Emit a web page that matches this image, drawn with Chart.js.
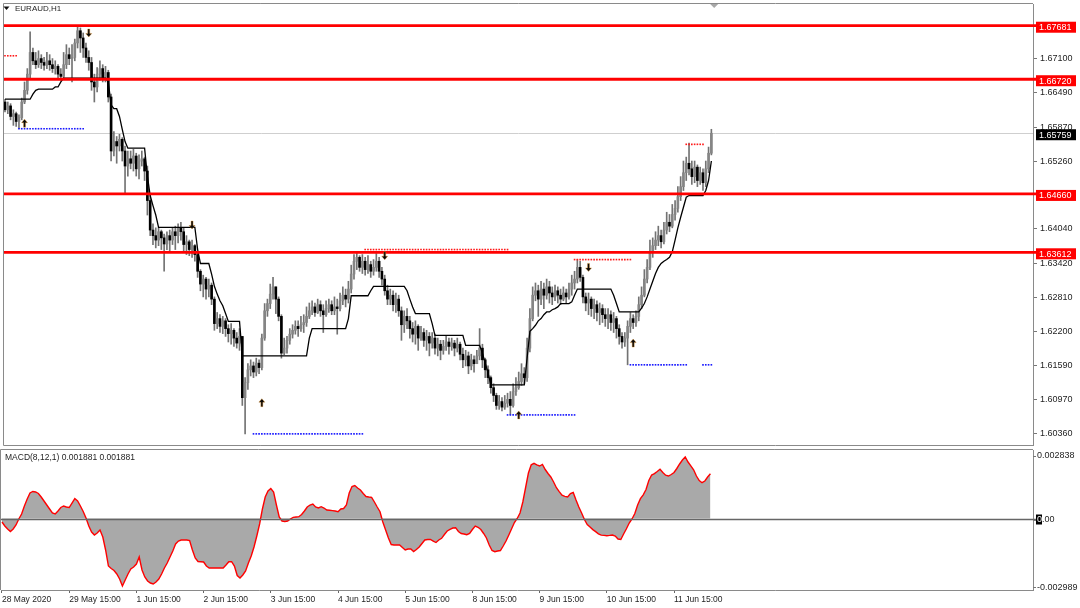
<!DOCTYPE html>
<html>
<head>
<meta charset="utf-8">
<script src="https://cdn.jsdelivr.net/npm/chart.js@4.4.1/dist/chart.umd.min.js"></script>
<style>
  html, body { margin: 0; padding: 0; background: #fff; }
  #wrap { position: relative; width: 1080px; height: 608px; overflow: hidden; background: #fff; }
  #main { position: absolute; left: 0; top: 0; }
  #macd { position: absolute; left: 0; top: 440px; }
</style>
</head>
<body>
<div id="wrap">
  <canvas id="main" width="1080" height="449"></canvas>
  <canvas id="macd" width="1080" height="168"></canvas>
</div>
<script>
// ---- data ----
const symbolTitle = 'EURAUD,H1';
const macdTitle = 'MACD(8,12,1) 0.001881 0.001881';

const xTickBars = [0, 24, 48, 72, 96, 120, 144, 168, 192, 216, 240];
const xTickLabels = ['28 May 2020', '29 May 15:00', '1 Jun 15:00', '2 Jun 15:00', '3 Jun 15:00',
  '4 Jun 15:00', '5 Jun 15:00', '8 Jun 15:00', '9 Jun 15:00', '10 Jun 15:00', '11 Jun 15:00'];

const priceTicks = [1.60360, 1.60970, 1.61590, 1.62200, 1.62810, 1.63420, 1.64040, 1.65260, 1.65870, 1.66490, 1.67100];
const levelLines = [1.67681, 1.66720, 1.64660, 1.63612];
const lastPrice = 1.65759;

const firstOpen = 1.6632;
const closes = [
  1.6618,1.6625,1.6606,1.6611,1.6597,1.6604,1.6632,1.6653,1.6682,1.6721,
  1.6706,1.6699,1.6710,1.6703,1.6698,1.6706,1.6699,1.6692,1.6696,1.6682,
  1.6678,1.6699,1.6717,1.6710,1.6712,1.6738,1.6760,1.6747,1.6729,1.6712,
  1.6703,1.6668,1.6659,1.6682,1.6692,1.6675,1.6685,1.6641,1.6544,1.6561,
  1.6553,1.6565,1.6544,1.6517,1.6530,1.6522,1.6535,1.6512,1.6526,1.6530,
  1.6508,1.6455,1.6402,1.6392,1.6384,1.6399,1.6388,1.6377,1.6392,1.6384,
  1.6399,1.6392,1.6406,1.6399,1.6376,1.6381,1.6367,1.6374,1.6358,1.6328,
  1.6305,1.6314,1.6296,1.6303,1.6278,1.6234,1.6243,1.6229,1.6239,1.6225,
  1.6216,1.6222,1.6208,1.6199,1.6211,1.6101,1.6128,1.6151,1.6158,1.6147,
  1.6163,1.6155,1.6208,1.6257,1.6270,1.6287,1.6300,1.6278,1.6247,1.6181,
  1.6190,1.6204,1.6215,1.6222,1.6229,1.6225,1.6232,1.6236,1.6247,1.6257,
  1.6264,1.6254,1.6268,1.6257,1.6250,1.6261,1.6268,1.6257,1.6264,1.6261,
  1.6275,1.6285,1.6278,1.6296,1.6323,1.6346,1.6353,1.6335,1.6346,1.6331,
  1.6340,1.6328,1.6335,1.6346,1.6328,1.6314,1.6293,1.6278,1.6285,1.6268,
  1.6278,1.6257,1.6232,1.6247,1.6239,1.6225,1.6215,1.6229,1.6208,1.6218,
  1.6204,1.6211,1.6199,1.6208,1.6190,1.6197,1.6186,1.6193,1.6201,1.6193,
  1.6199,1.6190,1.6197,1.6179,1.6169,1.6176,1.6158,1.6169,1.6162,1.6176,
  1.6190,1.6169,1.6151,1.6137,1.6119,1.6105,1.6087,1.6094,1.6084,1.6091,
  1.6098,1.6087,1.6112,1.6119,1.6130,1.6144,1.6137,1.6190,1.6243,1.6285,
  1.6293,1.6278,1.6296,1.6285,1.6300,1.6289,1.6282,1.6293,1.6285,1.6278,
  1.6289,1.6282,1.6296,1.6307,1.6314,1.6335,1.6317,1.6282,1.6271,1.6278,
  1.6261,1.6268,1.6254,1.6261,1.6250,1.6243,1.6250,1.6236,1.6243,1.6225,
  1.6211,1.6201,1.6208,1.6229,1.6243,1.6236,1.6247,1.6268,1.6285,1.6314,
  1.6335,1.6363,1.6374,1.6384,1.6392,1.6381,1.6402,1.6416,1.6409,1.6430,
  1.6441,1.6462,1.6480,1.6505,1.6522,1.6512,1.6498,1.6515,1.6491,1.6505,
  1.6487,1.6512,1.6540,1.65759
];
const highs = [
  1.6637,1.6632,1.6629,1.6618,1.6614,1.6609,1.6639,1.6668,1.6692,1.6758,
  1.6729,1.6721,1.6724,1.6717,1.6712,1.6721,1.6717,1.6710,1.6706,1.6699,
  1.6692,1.6721,1.6735,1.6729,1.6735,1.6745,1.6767,1.6765,1.6756,1.6738,
  1.6724,1.6712,1.6682,1.6694,1.6706,1.6699,1.6696,1.6689,1.6646,1.6579,
  1.6570,1.6574,1.6568,1.6553,1.6544,1.6544,1.6547,1.6540,1.6537,1.6544,
  1.6533,1.6517,1.6464,1.6413,1.6406,1.6406,1.6402,1.6395,1.6399,1.6402,
  1.6406,1.6409,1.6413,1.6416,1.6406,1.6392,1.6384,1.6384,1.6376,1.6363,
  1.6331,1.6321,1.6317,1.6314,1.6307,1.6282,1.6254,1.6250,1.6247,1.6243,
  1.6232,1.6234,1.6225,1.6218,1.6225,1.6208,1.6137,1.6162,1.6169,1.6165,
  1.6172,1.6169,1.6215,1.6270,1.6278,1.6305,1.6317,1.6300,1.6282,1.6250,
  1.6208,1.6211,1.6225,1.6232,1.6239,1.6239,1.6247,1.6250,1.6264,1.6271,
  1.6275,1.6271,1.6278,1.6275,1.6268,1.6275,1.6278,1.6275,1.6282,1.6278,
  1.6289,1.6300,1.6296,1.6310,1.6339,1.6358,1.6361,1.6356,1.6358,1.6353,
  1.6356,1.6346,1.6349,1.6360,1.6353,1.6335,1.6321,1.6303,1.6296,1.6293,
  1.6289,1.6285,1.6264,1.6257,1.6261,1.6247,1.6236,1.6239,1.6232,1.6229,
  1.6225,1.6222,1.6218,1.6218,1.6215,1.6208,1.6204,1.6204,1.6211,1.6208,
  1.6208,1.6204,1.6208,1.6201,1.6190,1.6186,1.6183,1.6179,1.6176,1.6186,
  1.6225,1.6197,1.6172,1.6158,1.6140,1.6126,1.6109,1.6105,1.6101,1.6105,
  1.6109,1.6112,1.6126,1.6137,1.6147,1.6162,1.6155,1.6208,1.6261,1.6300,
  1.6307,1.6303,1.6310,1.6307,1.6314,1.6310,1.6300,1.6303,1.6300,1.6296,
  1.6300,1.6296,1.6307,1.6321,1.6328,1.6349,1.6346,1.6321,1.6289,1.6289,
  1.6282,1.6278,1.6275,1.6271,1.6268,1.6261,1.6261,1.6257,1.6254,1.6247,
  1.6232,1.6218,1.6218,1.6239,1.6254,1.6250,1.6257,1.6282,1.6300,1.6331,
  1.6349,1.6384,1.6388,1.6399,1.6409,1.6402,1.6416,1.6434,1.6430,1.6448,
  1.6455,1.6480,1.6498,1.6526,1.6533,1.6558,1.6526,1.6526,1.6519,1.6515,
  1.6512,1.6526,1.6551,1.6583
];
const lows = [
  1.6614,1.6611,1.6600,1.6590,1.6588,1.6584,1.6600,1.6629,1.6646,1.6675,
  1.6699,1.6692,1.6694,1.6692,1.6689,1.6692,1.6689,1.6685,1.6682,1.6675,
  1.6671,1.6675,1.6692,1.6699,1.6668,1.6706,1.6729,1.6721,1.6712,1.6703,
  1.6689,1.6653,1.6632,1.6650,1.6671,1.6668,1.6668,1.6632,1.6526,1.6535,
  1.6522,1.6544,1.6526,1.6469,1.6499,1.6512,1.6508,1.6499,1.6494,1.6517,
  1.6491,1.6429,1.6392,1.6376,1.6370,1.6374,1.6367,1.6328,1.6367,1.6363,
  1.6376,1.6367,1.6379,1.6384,1.6363,1.6358,1.6356,1.6353,1.6346,1.6317,
  1.6293,1.6282,1.6278,1.6282,1.6268,1.6222,1.6225,1.6218,1.6216,1.6211,
  1.6201,1.6197,1.6193,1.6190,1.6186,1.6087,1.6036,1.6116,1.6140,1.6137,
  1.6140,1.6144,1.6151,1.6204,1.6247,1.6261,1.6278,1.6252,1.6239,1.6172,
  1.6178,1.6181,1.6197,1.6208,1.6215,1.6211,1.6220,1.6218,1.6229,1.6243,
  1.6250,1.6247,1.6252,1.6247,1.6218,1.6247,1.6254,1.6250,1.6250,1.6215,
  1.6257,1.6268,1.6264,1.6271,1.6289,1.6314,1.6331,1.6328,1.6324,1.6321,
  1.6324,1.6317,1.6321,1.6328,1.6317,1.6303,1.6285,1.6268,1.6268,1.6257,
  1.6254,1.6247,1.6204,1.6218,1.6225,1.6208,1.6201,1.6197,1.6186,1.6204,
  1.6193,1.6186,1.6176,1.6190,1.6179,1.6176,1.6169,1.6179,1.6186,1.6179,
  1.6186,1.6176,1.6183,1.6169,1.6155,1.6158,1.6144,1.6151,1.6147,1.6162,
  1.6169,1.6155,1.6137,1.6126,1.6109,1.6094,1.6080,1.6080,1.6077,1.6080,
  1.6084,1.6070,1.6084,1.6105,1.6116,1.6123,1.6126,1.6130,1.6183,1.6239,
  1.6275,1.6247,1.6268,1.6261,1.6278,1.6271,1.6268,1.6275,1.6271,1.6268,
  1.6275,1.6271,1.6278,1.6285,1.6296,1.6307,1.6310,1.6271,1.6257,1.6250,
  1.6247,1.6243,1.6239,1.6232,1.6236,1.6229,1.6225,1.6222,1.6218,1.6208,
  1.6197,1.6190,1.6193,1.6160,1.6218,1.6225,1.6229,1.6239,1.6261,1.6282,
  1.6307,1.6331,1.6353,1.6367,1.6374,1.6370,1.6377,1.6395,1.6399,1.6406,
  1.6420,1.6434,1.6455,1.6473,1.6491,1.6501,1.6484,1.6487,1.6480,1.6484,
  1.6473,1.6480,1.6505,1.6537
];
// trailing stop line (black)
const stopLine = [
  1.6637,1.6637,1.6637,1.6637,1.6637,1.6637,1.6637,1.6637,1.6637,1.6637,
  1.6646,1.6653,1.6655,1.6655,1.6655,1.6655,1.6655,1.6655,1.6659,1.6659,
  1.6668,1.6675,1.6675,1.6675,1.6675,1.6675,1.6675,1.6675,1.6675,1.6675,
  1.6675,1.6675,1.6675,1.6675,1.6675,1.6675,1.6675,1.6668,1.6627,1.6620,
  1.6620,1.6606,1.6583,1.6561,1.6549,1.6549,1.6549,1.6549,1.6549,1.6549,
  1.6549,1.6499,1.6464,1.6446,1.6429,1.6407,1.6407,1.6407,1.6407,1.6407,
  1.6407,1.6407,1.6407,1.6407,1.6407,1.6407,1.6407,1.6407,1.6407,1.6367,
  1.6342,1.6342,1.6342,1.6342,1.6323,1.6301,1.6287,1.6275,1.6266,1.6252,
  1.6238,1.6238,1.6238,1.6238,1.6238,1.6176,1.6176,1.6176,1.6176,1.6176,
  1.6176,1.6176,1.6176,1.6176,1.6176,1.6176,1.6176,1.6176,1.6176,1.6176,
  1.6176,1.6176,1.6176,1.6176,1.6176,1.6176,1.6176,1.6176,1.6176,1.6208,
  1.6225,1.6225,1.6225,1.6225,1.6225,1.6225,1.6225,1.6225,1.6225,1.6225,
  1.6225,1.6225,1.6225,1.6243,1.6284,1.6284,1.6284,1.6284,1.6284,1.6284,
  1.6284,1.6293,1.6301,1.6301,1.6301,1.6301,1.6301,1.6301,1.6301,1.6301,
  1.6301,1.6301,1.6301,1.6301,1.6293,1.6278,1.6264,1.6252,1.6252,1.6252,
  1.6252,1.6252,1.6252,1.6234,1.6213,1.6213,1.6213,1.6213,1.6213,1.6213,
  1.6213,1.6213,1.6213,1.6213,1.6213,1.6195,1.6195,1.6195,1.6195,1.6195,
  1.6195,1.6181,1.6163,1.6146,1.6124,1.6124,1.6124,1.6124,1.6124,1.6124,
  1.6124,1.6124,1.6124,1.6124,1.6124,1.6124,1.6124,1.6172,1.6220,1.6225,
  1.6231,1.6239,1.6243,1.6250,1.6255,1.6255,1.6259,1.6261,1.6264,1.6270,
  1.6270,1.6270,1.6270,1.6273,1.6285,1.6296,1.6296,1.6296,1.6296,1.6296,
  1.6296,1.6296,1.6296,1.6296,1.6296,1.6296,1.6296,1.6296,1.6285,1.6270,
  1.6255,1.6255,1.6255,1.6255,1.6255,1.6255,1.6255,1.6255,1.6262,1.6270,
  1.6282,1.6296,1.6310,1.6324,1.6335,1.6342,1.6346,1.6349,1.6353,1.6363,
  1.6384,1.6406,1.6425,1.6443,1.6461,1.6464,1.6464,1.6464,1.6464,1.6464,
  1.6464,1.6473,1.6491,1.6526
];
const macdValues = [
  -0.000147,-0.000316,-0.000442,-0.000547,-0.000442,-0.000273,-0.000021,0.000189,0.000526,0.000820,
  0.001073,0.001136,0.001115,0.001052,0.000905,0.000736,0.000568,0.000400,0.000231,0.000189,
  0.000316,0.000463,0.000526,0.000484,0.000463,0.000652,0.000841,0.000736,0.000526,0.000294,
  0.000021,-0.000316,-0.000568,-0.000694,-0.000610,-0.000484,-0.000778,-0.001325,-0.001998,-0.002104,
  -0.002188,-0.002335,-0.002545,-0.002840,-0.002587,-0.002335,-0.002125,-0.002040,-0.001914,-0.001620,
  -0.002167,-0.002461,-0.002629,-0.002714,-0.002756,-0.002671,-0.002545,-0.002335,-0.002082,-0.001872,
  -0.001620,-0.001367,-0.001073,-0.000947,-0.000905,-0.000905,-0.000905,-0.000926,-0.001325,-0.001662,
  -0.001809,-0.001817,-0.001830,-0.001998,-0.002082,-0.002082,-0.002082,-0.002082,-0.002082,-0.002082,
  -0.001956,-0.001817,-0.001817,-0.001998,-0.002398,-0.002503,-0.002377,-0.002209,-0.001872,-0.001578,
  -0.001199,-0.000736,-0.000231,0.000400,0.000905,0.001157,0.001262,0.001115,0.000568,0.000063,
  -0.000105,-0.000126,-0.000105,-0.000021,0.000050,0.000063,0.000076,0.000168,0.000316,0.000484,
  0.000568,0.000610,0.000484,0.000442,0.000496,0.000442,0.000358,0.000345,0.000332,0.000316,
  0.000286,0.000400,0.000421,0.000568,0.001073,0.001346,0.001388,0.001283,0.001199,0.001052,
  0.000926,0.000905,0.000892,0.000694,0.000484,0.000286,-0.000147,-0.000484,-0.000820,-0.001094,
  -0.001115,-0.001115,-0.001115,-0.001220,-0.001325,-0.001283,-0.001283,-0.001388,-0.001304,-0.001199,
  -0.001052,-0.000905,-0.000883,-0.000883,-0.000947,-0.001010,-0.000905,-0.000833,-0.000673,-0.000526,
  -0.000454,-0.000400,-0.000387,-0.000547,-0.000631,-0.000652,-0.000682,-0.000631,-0.000463,-0.000316,
  -0.000370,-0.000463,-0.000631,-0.000820,-0.001115,-0.001346,-0.001397,-0.001367,-0.001346,-0.001157,
  -0.000947,-0.000694,-0.000433,-0.000168,0.000000,0.000231,0.000694,0.001304,0.001914,0.002259,
  0.002322,0.002259,0.002209,0.002272,0.002061,0.001893,0.001746,0.001536,0.001296,0.001132,
  0.000980,0.000930,0.000905,0.001052,0.001094,0.000778,0.000484,0.000231,-0.000042,-0.000252,
  -0.000358,-0.000467,-0.000551,-0.000644,-0.000698,-0.000711,-0.000724,-0.000711,-0.000694,-0.000736,
  -0.000862,-0.000883,-0.000652,-0.000433,-0.000189,-0.000021,0.000210,0.000568,0.000833,0.000997,
  0.001220,0.001599,0.001830,0.001889,0.001977,0.002070,0.001935,0.001822,0.001788,0.001851,
  0.001935,0.002104,0.002293,0.002461,0.002587,0.002377,0.002217,0.002049,0.001788,0.001599,
  0.001506,0.001578,0.001746,0.001881
];
const macdAxisValues = [0.002838, 0, -0.002989];
const macdAxisLabels = ['0.002838', '0.00', '-0.002989'];

// dotted swing levels: [first bar, last bar, price]
const resistanceDots = [[0, 4, 1.6715], [129, 180, 1.6367], [204, 224, 1.6349], [244, 250, 1.6556]];
const supportDots = [[5, 28, 1.6584], [89, 128, 1.6036], [180, 204, 1.6070], [224, 244, 1.6160], [250, 253, 1.6160]];

// signal arrows
const arrowBars = [7, 30, 67, 92, 136, 184, 209, 225];
const arrowPrices = [1.6594, 1.6756, 1.6411, 1.6092, 1.6356, 1.6070, 1.6335, 1.6199];
const arrowUp = [true, false, false, true, false, true, false, true];

// ---- helpers ----
const FONT = '"Liberation Sans", Arial, sans-serif';
const axisFont = { family: 'Liberation Sans', size: 9 };
const dateFont = { family: 'Liberation Sans', size: 8.5 };
const textColor = '#1e1e1e';
const frameColor = '#8a8a8a';
const X_MIN = -0.357, X_MAX = 368.2;

const opens = closes.map((c, i) => (i === 0 ? firstOpen : closes[i - 1]));
const wickData = closes.map((c, i) => ({
  x: i,
  y: [Math.min(lows[i], opens[i], c), Math.max(highs[i], opens[i], c)]
}));
const bodyData = closes.map((c, i) => ({ x: i, y: [opens[i], c] }));
const bodyColors = closes.map((c, i) => (c >= opens[i] ? '#858585' : '#000000'));

function dots(levels) {
  const pts = [];
  levels.forEach(([from, to, price]) => {
    for (let i = from; i <= to; i++) pts.push({ x: i, y: price });
  });
  return pts;
}

function hLine(ctx, x1, x2, y, color, w) {
  ctx.save();
  ctx.strokeStyle = color;
  ctx.lineWidth = w;
  ctx.beginPath();
  ctx.moveTo(x1, y);
  ctx.lineTo(x2, y);
  ctx.stroke();
  ctx.restore();
}

function axisBox(ctx, x, cy, text, bg) {
  ctx.save();
  ctx.fillStyle = bg;
  ctx.fillRect(x, cy - 5.5, 40, 11);
  ctx.fillStyle = '#fff';
  ctx.font = '9px ' + FONT;
  ctx.textAlign = 'left';
  ctx.textBaseline = 'middle';
  ctx.fillText(text, x + 3, cy + 0.5);
  ctx.restore();
}

function drawArrow(ctx, x, y, up) {
  const s = up ? 1 : -1;
  ctx.save();
  ctx.beginPath();
  ctx.moveTo(x, y - 4 * s);
  ctx.lineTo(x + 3, y - 0.5 * s);
  ctx.lineTo(x + 1, y - 0.5 * s);
  ctx.lineTo(x + 1, y + 4 * s);
  ctx.lineTo(x - 1, y + 4 * s);
  ctx.lineTo(x - 1, y - 0.5 * s);
  ctx.lineTo(x - 3, y - 0.5 * s);
  ctx.closePath();
  ctx.fillStyle = '#0a0a0a';
  ctx.fill();
  ctx.strokeStyle = 'rgba(235,150,40,0.6)';
  ctx.lineWidth = 0.6;
  ctx.stroke();
  ctx.restore();
}

function noPad(scale) {
  scale.paddingTop = 0;
  scale.paddingBottom = 0;
  scale.paddingLeft = 0;
  scale.paddingRight = 0;
}

// ---- price panel ----
const mainDecor = {
  id: 'mainDecor',
  beforeDatasetsDraw(chart) {
    const { ctx, chartArea: a, scales: { y } } = chart;
    const py = Math.round(y.getPixelForValue(lastPrice)) + 0.5;
    hLine(ctx, a.left, a.right, py, '#cfcfcf', 1);
  },
  afterDatasetsDraw(chart) {
    const { ctx, chartArea: a, scales: { x, y } } = chart;
    levelLines.forEach(v => hLine(ctx, a.left, a.right + 3, y.getPixelForValue(v) - 0.5, '#ff0000', 2.8));
    arrowBars.forEach((b, k) => drawArrow(ctx, x.getPixelForValue(b), y.getPixelForValue(arrowPrices[k]), arrowUp[k]));
  },
  afterDraw(chart) {
    const { ctx, chartArea: a, scales: { x, y } } = chart;
    ctx.save();
    ctx.strokeStyle = frameColor;
    ctx.lineWidth = 1;
    ctx.beginPath();
    ctx.moveTo(a.left - 0.5, a.bottom + 0.5);
    ctx.lineTo(a.left - 0.5, a.top - 0.5);
    ctx.lineTo(a.right, a.top - 0.5);
    ctx.moveTo(a.left - 0.5, a.bottom + 0.5);
    ctx.lineTo(a.right, a.bottom + 0.5);
    ctx.stroke();
    ctx.restore();

    levelLines.forEach(v => axisBox(ctx, a.right + 3, y.getPixelForValue(v) + 1, v.toFixed(5), '#ff0000'));
    axisBox(ctx, a.right + 3, y.getPixelForValue(lastPrice) + 1.5, lastPrice.toFixed(5), '#000000');

    // title
    ctx.save();
    ctx.fillStyle = '#111';
    ctx.beginPath();
    ctx.moveTo(3.5, 6.5); ctx.lineTo(9.5, 6.5); ctx.lineTo(6.5, 10); ctx.closePath();
    ctx.fill();
    ctx.font = '8px ' + FONT;
    ctx.textBaseline = 'middle';
    ctx.fillStyle = textColor;
    ctx.fillText(symbolTitle, 15, 9);
    // chart shift marker
    const sx = x.getPixelForValue(254);
    ctx.fillStyle = '#a8a8a8';
    ctx.beginPath();
    ctx.moveTo(sx - 4, a.top); ctx.lineTo(sx + 4, a.top); ctx.lineTo(sx, a.top + 4); ctx.closePath();
    ctx.fill();
    ctx.restore();
  }
};

new Chart(document.getElementById('main'), {
  type: 'bar',
  data: {
    datasets: [
      { type: 'line', data: stopLine.map((v, i) => ({ x: i, y: v })), borderColor: '#000', borderWidth: 1.3,
        pointRadius: 0, tension: 0 },
      { type: 'line', data: dots(supportDots), showLine: false, pointStyle: 'rect', pointRadius: 1.15,
        pointBackgroundColor: '#1a1aff', pointBorderWidth: 0 },
      { type: 'line', data: dots(resistanceDots), showLine: false, pointStyle: 'rect', pointRadius: 1.15,
        pointBackgroundColor: '#ff1a1a', pointBorderWidth: 0 },
      { type: 'bar', data: bodyData, backgroundColor: bodyColors, barThickness: 2, grouped: false, minBarLength: 1 },
      { type: 'bar', data: wickData, backgroundColor: '#737373', barThickness: 1, grouped: false }
    ]
  },
  options: {
    responsive: false,
    animation: false,
    events: [],
    layout: { padding: { left: 1, top: 1, right: 0, bottom: 2 } },
    plugins: { legend: { display: false }, tooltip: { enabled: false } },
    scales: {
      x: { type: 'linear', min: X_MIN, max: X_MAX, offset: false, display: false },
      y: {
        position: 'right',
        min: 1.6016,
        max: 1.6808,
        afterBuildTicks(s) { s.ticks = priceTicks.map(v => ({ value: v })); },
        afterFit(s) { s.width = 47; noPad(s); },
        ticks: { callback: v => v.toFixed(5), font: axisFont, color: textColor, padding: 3, autoSkip: false },
        grid: { display: true, drawOnChartArea: false, drawTicks: true, tickLength: 4, color: '#777' },
        border: { display: true, color: frameColor }
      }
    }
  },
  plugins: [mainDecor]
});

// ---- MACD panel ----
const macdDecor = {
  id: 'macdDecor',
  afterDatasetsDraw(chart) {
    const { ctx, chartArea: a, scales: { y } } = chart;
    hLine(ctx, a.left, a.right + 3, Math.round(y.getPixelForValue(0)) + 0.5, '#666', 1.5);
  },
  afterDraw(chart) {
    const { ctx, chartArea: a, scales: { y } } = chart;
    ctx.save();
    ctx.strokeStyle = frameColor;
    ctx.lineWidth = 1;
    ctx.beginPath();
    ctx.moveTo(a.left - 0.5, a.bottom);
    ctx.lineTo(a.left - 0.5, a.top - 0.5);
    ctx.lineTo(a.right, a.top - 0.5);
    ctx.stroke();

    ctx.font = '9px ' + FONT;
    ctx.textBaseline = 'middle';
    ctx.textAlign = 'left';
    macdAxisValues.forEach((v, k) => {
      const py = y.getPixelForValue(v);
      const cy = Math.min(Math.max(py + 1, a.top + 5.5), a.bottom - 3);
      ctx.strokeStyle = '#777';
      ctx.beginPath();
      ctx.moveTo(a.right, Math.round(cy) + 0.5);
      ctx.lineTo(a.right + 3, Math.round(cy) + 0.5);
      ctx.stroke();
      if (v === 0) {
        ctx.fillStyle = '#000';
        ctx.fillRect(a.right + 3, cy - 5, 6, 10);
        ctx.fillStyle = '#fff';
        ctx.fillText(macdAxisLabels[k].charAt(0), a.right + 4, cy + 0.5);
        ctx.fillStyle = textColor;
        ctx.fillText(macdAxisLabels[k].slice(1), a.right + 4 + ctx.measureText('0').width, cy + 0.5);
      } else {
        ctx.fillStyle = textColor;
        ctx.fillText(macdAxisLabels[k], a.right + 4, cy + 0.5);
      }
    });

    ctx.font = '8.5px ' + FONT;
    ctx.fillStyle = textColor;
    ctx.fillText(macdTitle, 5, a.top + 8);
    ctx.restore();
  }
};

new Chart(document.getElementById('macd'), {
  type: 'line',
  data: {
    datasets: [{
      data: macdValues.map((v, i) => ({ x: i, y: v })),
      borderColor: '#ff0000',
      borderWidth: 1.4,
      pointRadius: 0,
      tension: 0,
      fill: { value: 0 },
      backgroundColor: '#a9a9a9'
    }]
  },
  options: {
    responsive: false,
    animation: false,
    events: [],
    layout: { padding: { left: 1, top: 10, right: 0, bottom: 0 } },
    plugins: { legend: { display: false }, tooltip: { enabled: false } },
    scales: {
      x: {
        type: 'linear', min: X_MIN, max: X_MAX, offset: false,
        afterBuildTicks(s) { s.ticks = xTickBars.map(v => ({ value: v })); },
        afterFit(s) { s.height = 18; noPad(s); },
        ticks: {
          callback: v => xTickLabels[xTickBars.indexOf(v)],
          align: 'start', autoSkip: false, maxRotation: 0, minRotation: 0,
          font: dateFont, color: textColor, padding: 2
        },
        grid: { display: true, drawOnChartArea: false, drawTicks: true, tickLength: 3, color: '#666' },
        border: { display: true, color: frameColor }
      },
      y: {
        position: 'right',
        min: -0.003008,
        max: 0.002882,
        afterFit(s) { s.width = 47; noPad(s); },
        ticks: { display: false },
        grid: { display: false },
        border: { display: true, color: frameColor }
      }
    }
  },
  plugins: [macdDecor]
});
</script>
</body>
</html>
